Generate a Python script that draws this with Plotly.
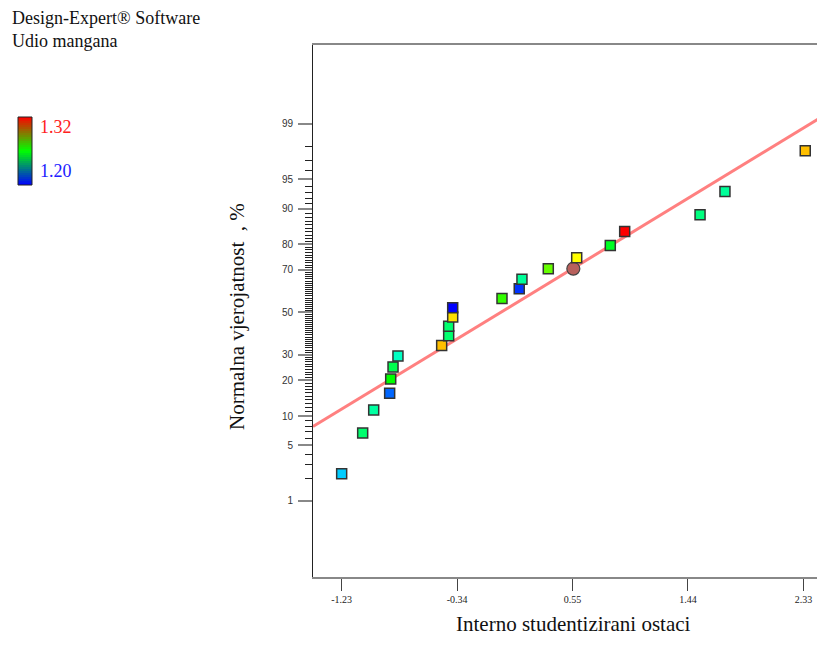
import plotly.graph_objects as go
from statistics import NormalDist

# ---------------- data ----------------
residuals = [-1.230, -1.068, -0.983, -0.860, -0.852, -0.834, -0.796, -0.459, -0.405, -0.405,
             -0.374, -0.374, 0.006, 0.139, 0.160, 0.363, 0.582, 0.841, 0.952, 1.533, 1.725, 2.344]
probability = [2.3, 6.8, 11.4, 15.9, 20.5, 25.0, 29.5, 34.1, 38.6, 43.2,
               47.7, 52.3, 56.8, 61.4, 65.9, 70.5, 75.0, 79.5, 84.1, 88.6, 93.2, 97.7]
response = [1.224, 1.247, 1.241, 1.212, 1.260, 1.251, 1.237, 1.2975, 1.247, 1.247,
            1.2936, 1.200, 1.266, 1.206, 1.242, 1.272, 1.290, 1.256, 1.320, 1.245, 1.242, 1.2975]

highlight_resid = [0.556]
highlight_prob = [70.5]

fit_resid = [-1.451, 2.496]
fit_prob = [7.9, 99.26]

x_ticks = [-1.23, -0.34, 0.55, 1.44, 2.33]
x_ticklabels = ["-1.23", "-0.34", "0.55", "1.44", "2.33"]
y_major = [1, 5, 10, 20, 30, 50, 70, 80, 90, 95, 99]
y_minor = [p for p in range(2, 99) if p not in y_major]

color_min, color_max = 1.20, 1.32

# ---------------- helpers ----------------
nd = NormalDist()
def z(p):
    return nd.inv_cdf(p / 100.0)

OFF = 8  # page body margin
W, H = 809, 629
L, T, B, R = 305, 37, 60, 0
PW, PH = W - L - R, H - T - B
X_RANGE = [-1.451, -1.23 + (OFF + W - 341.7) / 129.7]

def px(xs):  # screen x -> paper
    return (xs - OFF - L) / PW

def py(ys):  # screen y -> paper
    return (H - B - (ys - OFF)) / PH

fig = go.Figure()

# fitted normal line
fig.add_trace(go.Scatter(
    x=fit_resid, y=[z(p) for p in fit_prob], mode="lines",
    line=dict(color="#FF8080", width=3), hoverinfo="skip", showlegend=False))

# highlighted point (circle)
fig.add_trace(go.Scatter(
    x=highlight_resid, y=[z(p) for p in highlight_prob], mode="markers",
    marker=dict(symbol="circle", size=13, color="#B8605C",
                line=dict(color="#444444", width=1.2)),
    showlegend=False))

# residual points
rainbow = [[0.0, "rgb(0,0,255)"], [0.25, "rgb(0,255,255)"], [0.5, "rgb(0,255,0)"],
           [0.75, "rgb(255,255,0)"], [1.0, "rgb(255,0,0)"]]
fig.add_trace(go.Scatter(
    x=residuals, y=[z(p) for p in probability], mode="markers",
    marker=dict(symbol="square", size=10, color=response, colorscale=rainbow,
                cmin=color_min, cmax=color_max, showscale=False,
                line=dict(color="#333333", width=1.5)),
    showlegend=False))

# colour legend bar drawn as thin stripes (blue -> green -> red)
def bar_color(f):
    if f < 0.5:
        g = f / 0.5
        return f"rgb(0,{round(255*g)},{round(255*(1-g))})"
    g = (f - 0.5) / 0.5
    return f"rgb({round(255*g)},{round(255*(1-g))},0)"

shapes = []
bx0, bx1, by_top, by_bot = 18, 32, 117, 185
n = 34
step = (by_bot - by_top) / n
for i in range(n):
    y0 = by_bot - i * step
    y1 = y0 - step
    shapes.append(dict(type="rect", xref="paper", yref="paper",
                       x0=px(bx0), x1=px(bx1), y0=py(y0), y1=py(y1),
                       fillcolor=bar_color((i + 0.5) / n), line=dict(width=0), layer="above"))
shapes.append(dict(type="rect", xref="paper", yref="paper",
                   x0=px(bx0), x1=px(bx1), y0=py(by_bot), y1=py(by_top),
                   fillcolor="rgba(0,0,0,0)", line=dict(color="#222222", width=1), layer="above"))

fig.update_layout(
    width=W, height=H,
    margin=dict(l=L, r=R, t=T, b=B, pad=0),
    paper_bgcolor="white", plot_bgcolor="white",
    shapes=shapes,
    xaxis=dict(range=X_RANGE, tickmode="array", tickvals=x_ticks, ticktext=x_ticklabels,
               ticks="outside", ticklen=12, tickwidth=1, tickcolor="#444444",
               showline=True, linecolor="#888888", linewidth=2, mirror=True,
               showgrid=False, zeroline=False,
               tickfont=dict(family="Liberation Serif", size=10, color="#222222")),
    yaxis=dict(range=[-3.27, 3.302], tickmode="array", tickvals=[z(p) for p in y_major],
               ticktext=[str(p) for p in y_major],
               ticks="outside", ticklen=14, tickwidth=2, tickcolor="#888888",
               ticklabelstandoff=3,
               showline=True, linecolor="#222222", linewidth=1,
               showgrid=False, zeroline=False,
               tickfont=dict(family="Liberation Sans", size=10, color="#333333"),
               minor=dict(tickmode="array", tickvals=[z(p) for p in y_minor],
                          ticks="outside", ticklen=7, tickwidth=1, tickcolor="#222222",
                          showgrid=False)),
    font=dict(family="Liberation Serif"),
)

ann = [
    dict(text="Design-Expert® Software", x=px(10), y=py(18), xanchor="left", yanchor="middle",
         font=dict(family="Liberation Serif", size=18, color="#111111")),
    dict(text="Udio mangana", x=px(10), y=py(41), xanchor="left", yanchor="middle",
         font=dict(family="Liberation Serif", size=18, color="#111111")),
    dict(text="1.32", x=px(38), y=py(127), xanchor="left", yanchor="middle",
         font=dict(family="Liberation Serif", size=18, color="#FF2020")),
    dict(text="1.20", x=px(38), y=py(171), xanchor="left", yanchor="middle",
         font=dict(family="Liberation Serif", size=18, color="#2020FF")),
    dict(text="Interno studentizirani ostaci", x=px(573), y=py(624), xanchor="center", yanchor="middle",
         font=dict(family="Liberation Serif", size=21, color="#111111")),
    dict(text="Normalna vjerojatnost  , %", x=px(237), y=py(317), xanchor="center", yanchor="middle",
         textangle=-90, font=dict(family="Liberation Serif", size=21, color="#111111")),
]
for a in ann:
    a.update(xref="paper", yref="paper", showarrow=False)
fig.update_layout(annotations=ann)

fig.write_html("out.html")
